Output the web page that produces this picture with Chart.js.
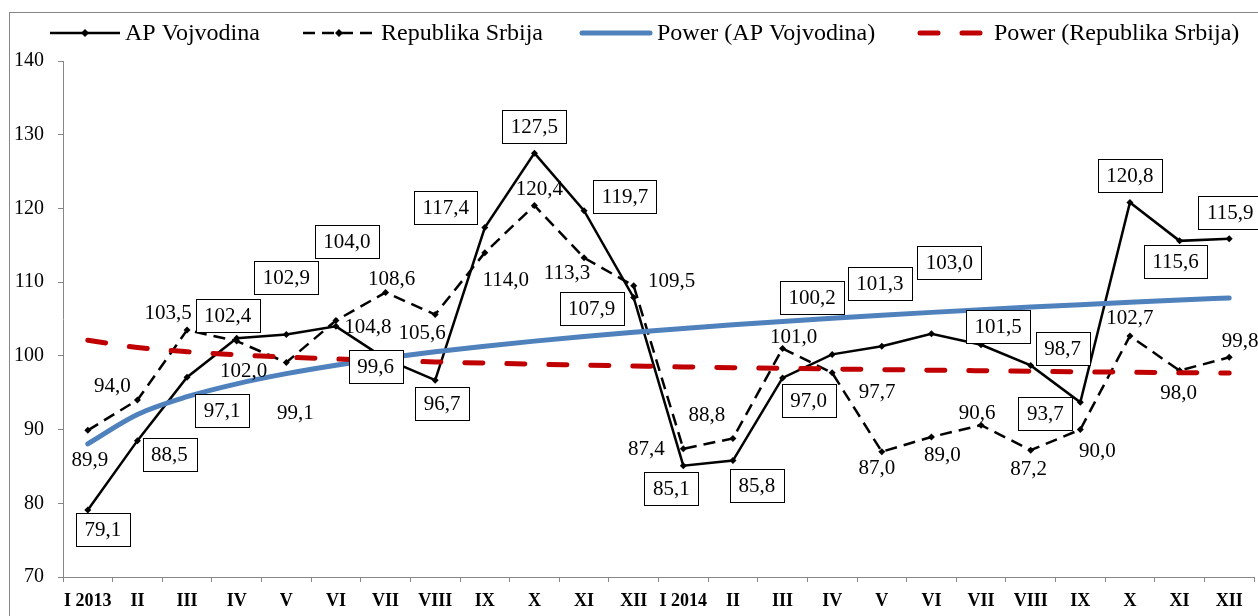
<!DOCTYPE html>
<html>
<head>
<meta charset="utf-8">
<script src="https://cdn.jsdelivr.net/npm/chart.js@4.4.1/dist/chart.umd.min.js"></script>
<style>
html, body { margin: 0; padding: 0; background: #fff; }
</style>
</head>
<body>
<canvas id="chart" width="1258" height="616"></canvas>
<script>
const months = ['I 2013', 'II', 'III', 'IV', 'V', 'VI', 'VII', 'VIII', 'IX', 'X', 'XI', 'XII',
    'I 2014', 'II', 'III', 'IV', 'V', 'VI', 'VII', 'VIII', 'IX', 'X', 'XI', 'XII'];

const vojvodina = [79.1, 88.5, 97.1, 102.4, 102.9, 104.0, 99.6, 96.7, 117.4, 127.5, 119.7, 107.9,
    85.1, 85.8, 97.0, 100.2, 101.3, 103.0, 101.5, 98.7, 93.7, 120.8, 115.6, 115.9];

const srbija = [89.9, 94.0, 103.5, 102.0, 99.1, 104.8, 108.6, 105.6, 114.0, 120.4, 113.3, 109.5,
    87.4, 88.8, 101.0, 97.7, 87.0, 89.0, 90.6, 87.2, 90.0, 102.7, 98.0, 99.8];

const yMin = 70;
const yMax = 140;
const yStep = 10;

// label placement (centre of the label relative to its point, px)
const vojvodinaLabelPos = [[15, 20], [32, 14], [35, 33], [-9, -23], [0, -57], [11, -85], [-10, 8], [7, 23],
    [-39, -20], [0, -27], [41, -14], [-42, 11], [-12, 23], [24, 25], [26, 23], [-20, -57], [-2, -63],
    [18, -71], [17, -18], [32, -17], [-35, 11], [0, -27], [-4, 21], [1, -26]];
const srbijaLabelPos = [[2, 29], [-25, -15], [-19, -18], [7, 29], [9, 50], [32, 6], [6, -14], [-13, 18],
    [21, 27], [5, -17], [-17, 15], [38, -5], [-37, 0], [-26, -24], [11, -12], [45, 19], [-5, 16],
    [11, 18], [-4, -13], [-2, 18], [17, 21], [0, -18], [-1, 22], [11, -17]];

const FONT = "'Liberation Serif', 'Times New Roman', serif";

// Excel style power trendline: least squares on ln(x), ln(y)
function powerTrend(vals) {
    const n = vals.length;
    let sx = 0, sy = 0, sxy = 0, sxx = 0;
    vals.forEach((v, i) => {
        const lx = Math.log(i + 1), ly = Math.log(v);
        sx += lx; sy += ly; sxy += lx * ly; sxx += lx * lx;
    });
    const b = (n * sxy - sx * sy) / (n * sxx - sx * sx);
    const a = Math.exp((sy - b * sx) / n);
    return vals.map((_, i) => a * Math.pow(i + 1, b));
}

const fmt = v => v.toFixed(1).replace('.', ',');

const frame = {
    id: 'frame',
    beforeDraw(chart) {
        const ctx = chart.ctx;
        ctx.save();
        ctx.fillStyle = '#fff';
        ctx.fillRect(0, 0, chart.width, chart.height);
        ctx.strokeStyle = '#868686';
        ctx.lineWidth = 1;
        ctx.strokeRect(9.5, 12.5, 1400, 800);
        ctx.restore();
    }
};

function diamond(ctx, x, y, r) {
    ctx.beginPath();
    ctx.moveTo(x, y - r);
    ctx.lineTo(x + r, y);
    ctx.lineTo(x, y + r);
    ctx.lineTo(x - r, y);
    ctx.closePath();
    ctx.fill();
}

const legendItems = [
    { text: 'AP Vojvodina', x0: 50, x1: 120, tx: 125, color: '#000', width: 2.5, dash: [], marker: true },
    { text: 'Republika Srbija', x0: 303, x1: 375, tx: 381, color: '#000', width: 2.5, dash: [12, 7], marker: true },
    { text: 'Power (AP Vojvodina)', x0: 582, x1: 650, tx: 657, color: '#4F81BD', width: 5, dash: [], round: true },
    { text: 'Power (Republika Srbija)', x0: 920, x1: 981, tx: 994, color: '#C00000', width: 5, dash: [18, 24], round: true }
];

const customLegend = {
    id: 'customLegend',
    afterDraw(chart) {
        const ctx = chart.ctx;
        const y = 33;
        ctx.save();
        legendItems.forEach(it => {
            ctx.strokeStyle = it.color;
            ctx.lineWidth = it.width;
            ctx.lineCap = it.round ? 'round' : 'butt';
            ctx.setLineDash(it.dash);
            ctx.beginPath();
            ctx.moveTo(it.x0, y);
            ctx.lineTo(it.x1, y);
            ctx.stroke();
            ctx.setLineDash([]);
            if (it.marker) {
                ctx.fillStyle = it.color;
                diamond(ctx, (it.x0 + it.x1) / 2, y, 4);
            }
            ctx.fillStyle = '#000';
            ctx.font = '24px ' + FONT;
            ctx.textAlign = 'left';
            ctx.textBaseline = 'middle';
            ctx.fillText(it.text, it.tx, y + 1);
        });
        ctx.restore();
    }
};

const valueLabels = {
    id: 'valueLabels',
    afterDatasetsDraw(chart) {
        const ctx = chart.ctx;
        ctx.save();
        ctx.font = '21px ' + FONT;
        ctx.textAlign = 'center';
        ctx.textBaseline = 'middle';
        const draw = (dsIndex, values, pos, boxed) => {
            const meta = chart.getDatasetMeta(dsIndex);
            values.forEach((v, i) => {
                const pt = meta.data[i];
                const cx = pt.x + pos[i][0];
                const cy = pt.y + pos[i][1];
                const t = fmt(v);
                if (boxed) {
                    const w = ctx.measureText(t).width + 17;
                    const h = 33;
                    const lx = Math.round(cx - w / 2) + 0.5;
                    const ly = Math.round(cy - h / 2) + 0.5;
                    ctx.fillStyle = '#fff';
                    ctx.fillRect(lx, ly, w, h);
                    ctx.strokeStyle = '#000';
                    ctx.lineWidth = 1;
                    ctx.strokeRect(lx, ly, Math.round(w), h);
                }
                ctx.fillStyle = '#000';
                ctx.fillText(t, cx, cy + 1);
            });
        };
        draw(1, srbija, srbijaLabelPos, false);
        draw(0, vojvodina, vojvodinaLabelPos, true);
        ctx.restore();
    }
};

new Chart(document.getElementById('chart'), {
    type: 'line',
    data: {
        labels: months,
        datasets: [{
            label: 'AP Vojvodina',
            data: vojvodina,
            borderColor: '#000',
            borderWidth: 2.5,
            pointStyle: 'rectRot',
            pointRadius: 3.5,
            pointBackgroundColor: '#000',
            pointBorderWidth: 0,
            tension: 0,
            order: 2
        }, {
            label: 'Republika Srbija',
            data: srbija,
            borderColor: '#000',
            borderWidth: 2.5,
            borderDash: [12, 7],
            pointStyle: 'rectRot',
            pointRadius: 3.5,
            pointBackgroundColor: '#000',
            pointBorderWidth: 0,
            tension: 0,
            order: 3
        }, {
            label: 'Power (AP Vojvodina)',
            data: powerTrend(vojvodina),
            borderColor: '#4F81BD',
            borderWidth: 5,
            borderCapStyle: 'round',
            pointRadius: 0,
            cubicInterpolationMode: 'monotone',
            order: 1
        }, {
            label: 'Power (Republika Srbija)',
            data: powerTrend(srbija),
            borderColor: '#C00000',
            borderWidth: 5,
            borderDash: [18, 24],
            borderCapStyle: 'round',
            pointRadius: 0,
            cubicInterpolationMode: 'monotone',
            order: 0
        }]
    },
    options: {
        responsive: false,
        animation: false,
        layout: {
            padding: { top: 61, right: 4, left: 0, bottom: 0 }
        },
        plugins: {
            legend: { display: false },
            tooltip: { enabled: false }
        },
        scales: {
            x: {
                offset: true,
                grid: {
                    offset: true,
                    drawOnChartArea: false,
                    tickLength: 5,
                    color: '#868686'
                },
                border: { color: '#868686', width: 1 },
                ticks: {
                    color: '#000',
                    font: { family: FONT, size: 18, weight: 'bold' },
                    padding: 9,
                    maxRotation: 0,
                    autoSkip: false
                },
                afterFit(s) { s.height = 39; }
            },
            y: {
                min: yMin,
                max: yMax,
                grid: {
                    drawOnChartArea: false,
                    tickLength: 5,
                    color: '#868686'
                },
                border: { color: '#868686', width: 1 },
                ticks: {
                    stepSize: yStep,
                    color: '#000',
                    font: { family: FONT, size: 20 },
                    padding: 14
                },
                afterFit(s) { s.width = 63; }
            }
        }
    },
    plugins: [frame, customLegend, valueLabels]
});
</script>
</body>
</html>
